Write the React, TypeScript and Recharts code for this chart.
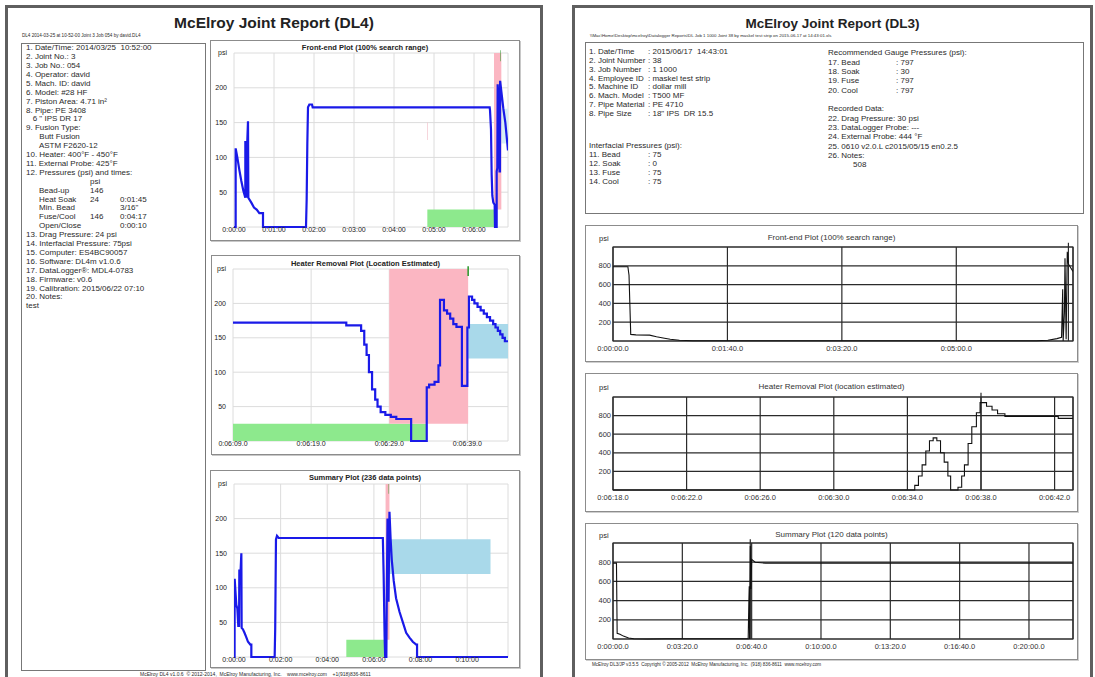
import React from 'react'
import { LineChart, Line, XAxis, YAxis, CartesianGrid, ReferenceArea, ReferenceLine } from 'recharts'

const FONT = '"Liberation Sans", Arial, Helvetica, sans-serif'

// ---------- DL4 report (left page), time in seconds, pressure in psi ----------
const dl4FrontT = [0, 2.5, 2.5, 5, 8, 11, 14, 17, 17, 18, 19, 20, 21, 21.5, 26, 30, 34, 38, 43.5, 43.5, 108, 109, 110, 111, 113, 117, 118, 383.5, 384, 385.5, 386.5, 387.5, 389, 391, 391.5, 394, 394, 395, 395.5, 396.5, 398, 398.3, 399, 399.2, 401, 404, 407, 411]
const dl4FrontPsi = [0, 0, 113, 100, 82, 66, 52, 42, 122, 122, 42, 125, 152, 42, 35, 28, 25, 20, 20, 0, 0, 40, 120, 172, 176, 176, 172, 172, 168, 140, 75, 45, 35, 32, 0, 0, 80, 85, 205, 190, 168, 80, 80, 210, 195, 170, 150, 110]

const dl4HeaterT = [369, 383.5, 385.4, 385.8, 386.1, 386.4, 386.8, 387.2, 387.5, 387.9, 388.5, 389.2, 389.9, 391.8, 393.8, 394.1, 394.8, 395.3, 395.5, 396, 396.4, 396.8, 397.2, 397.6, 398.3, 399, 399.2, 399.6, 399.9, 400.3, 400.7, 401.1, 401.5, 401.9, 402.3, 402.6, 402.9, 403.2, 403.5, 403.8, 404.2]
const dl4HeaterPsi = [172, 168, 160, 140, 125, 100, 75, 60, 50, 42, 38, 35, 32, 0, 78, 82, 86, 110, 205, 190, 185, 178, 170, 166, 80, 165, 210, 205, 200, 195, 190, 185, 180, 175, 170, 165, 160, 155, 150, 145, 145]

const dl4SummaryT = [0, 1.5, 1.7, 4.3, 6, 8.6, 11, 13, 13.7, 17, 18.9, 19.7, 23, 27, 32, 36, 42, 44.6, 44.6, 104.6, 106, 108, 110.6, 115, 383, 385, 387.5, 389, 392, 393, 395, 396.5, 397.6, 400, 403, 406, 411, 417, 426, 434.5, 443, 451.6, 460, 469, 471, 471, 705]
const dl4SummaryPsi = [0, 0, 113, 90, 75, 70, 45, 45, 125, 125, 150, 42, 40, 35, 28, 22, 18, 18, 0, 0, 40, 170, 175, 172, 172, 120, 30, 0, 0, 80, 200, 150, 80, 210, 170, 140, 110, 85, 65, 50, 35, 28, 22, 18, 18, 0, 0]

const dl4PsiTicks = [0, 50, 100, 150, 200, 250]
const dl4FrontTicks = [0, 60, 120, 180, 240, 300, 360]
const dl4HeaterTicks = [369, 379, 389, 399]
const dl4SummaryTicks = [0, 120, 240, 360, 480, 600]

type Zone = { x1: number; x2: number; y1: number; y2: number; kind: string }

const dl4FrontZones: Zone[] = [
  { x1: 290, x2: 390, y1: 0, y2: 25, kind: 'green' },
  { x1: 289.6, x2: 290.6, y1: 125, y2: 150, kind: 'faintPink' },
  { x1: 401, x2: 411, y1: 120, y2: 170, kind: 'faintBlue' },
  { x1: 390, x2: 401, y1: 25, y2: 250, kind: 'pink' },
  { x1: 399.6, x2: 400.4, y1: 238, y2: 254, kind: 'mark' },
]
const dl4HeaterZones: Zone[] = [
  { x1: 369, x2: 393.8, y1: 0, y2: 25, kind: 'green' },
  { x1: 389, x2: 399.1, y1: 25, y2: 250, kind: 'pink' },
  { x1: 399.1, x2: 404.2, y1: 120, y2: 170, kind: 'blue' },
  { x1: 399.0, x2: 399.2, y1: 240, y2: 254, kind: 'mark' },
]
const dl4SummaryZones: Zone[] = [
  { x1: 289, x2: 390, y1: 0, y2: 25, kind: 'green' },
  { x1: 390, x2: 400, y1: 25, y2: 250, kind: 'pink' },
  { x1: 400, x2: 660, y1: 120, y2: 170, kind: 'blue' },
  { x1: 397.8, x2: 399, y1: 236, y2: 250, kind: 'mark' },
]

// ---------- DL3 report (right page) ----------
const dl3FrontT = [0, 13, 14, 15.5, 20, 32, 38, 45, 50, 58, 70, 100, 370, 380, 388, 392, 393, 393.4, 394.5, 395, 396, 397, 398, 400, 402]
const dl3FrontPsi = [790, 790, 700, 70, 65, 62, 45, 30, 18, 8, 3, 2, 2, 8, 25, 40, 550, 0, 300, 880, 20, 950, 820, 780, 740]

const dl3HeaterT = [378, 394.4, 394.6, 394.8, 395, 395.2, 395.4, 395.6, 395.8, 396, 396.2, 396.35, 396.75, 396.95, 397.1, 397.3, 397.5, 397.75, 397.95, 398.3, 398.6, 398.9, 399.3, 402.2, 403]
const dl3HeaterPsi = [0, 50, 150, 270, 420, 530, 560, 530, 400, 300, 150, 0, 30, 150, 270, 500, 680, 830, 940, 900, 860, 820, 790, 770, 770]

const dl3SummaryT = [0, 10, 12, 20, 30, 45, 60, 100, 150, 390, 392, 393, 394, 396, 398, 400, 410, 440, 1327]
const dl3SummaryPsi = [790, 790, 60, 50, 30, 10, 3, 0, 3, 3, 400, 550, 0, 970, 520, 830, 800, 790, 790]

const dl3PsiTicks = [0, 200, 400, 600, 800, 1000]
const dl3FrontTicks = [0, 100, 200, 300]
const dl3HeaterTicks = [378, 382, 386, 390, 394, 398, 402]
const dl3SummaryTicks = [0, 200, 400, 600, 800, 1000, 1200]

const dl4Lines = [
  '1. Date/Time: 2014/03/25  10:52:00', '2. Joint No.: 3', '3. Job No.: 054', '4. Operator: david',
  '5. Mach. ID: david', '6. Model: #28 HF', '7. Piston Area: 4.71 in²', '8. Pipe: PE 3408',
  '   6 " IPS DR 17', '9. Fusion Type:', '      Butt Fusion', '      ASTM F2620-12',
  '10. Heater: 400°F - 450°F', '11. External Probe: 425°F', '12. Pressures (psi) and times:',
]
const dl4Table = [
  ['', 'psi', ''], ['Bead-up', '146', ''], ['Heat Soak', '24', '0:01:45'],
  ['Min. Bead', '', '3/16"'], ['Fuse/Cool', '146', '0:04:17'], ['Open/Close', '', '0:00:10'],
]
const dl4Tail = [
  '13. Drag Pressure: 24 psi', '14. Interfacial Pressure: 75psi', '15. Computer: ES4BC90057',
  '16. Software: DL4m v1.0.6', '17. DataLogger®: MDL4-0783', '18. Firmware: v0.6',
  '19. Calibration: 2015/06/22 07:10', '20. Notes:', 'test',
]

const dl3Left = [
  ['1. Date/Time', '2015/06/17  14:43:01'], ['2. Joint Number', '38'], ['3. Job Number', '1 1000'],
  ['4. Employee ID', 'maskel test strip'], ['5. Machine ID', 'dollar mill'], ['6. Mach. Model', 'T500 MF'],
  ['7. Pipe Material', 'PE 4710'], ['8. Pipe Size', '18" IPS  DR 15.5'],
]
const dl3Interfacial = [['11. Bead', '75'], ['12. Soak', '0'], ['13. Fuse', '75'], ['14. Cool', '75']]
const dl3Gauge = [['17. Bead', '797'], ['18. Soak', '30'], ['19. Fuse', '797'], ['20. Cool', '797']]
const dl3Recorded = [
  '22. Drag Pressure: 30 psi', '23. DataLogger Probe: ---', '24. External Probe: 444 °F',
  '25. 0610 v2.0.L c2015/05/15 en0.2.5', '26. Notes:',
]

const zoneFill: Record<string, string> = {
  green: '#8de98d', pink: '#fbb6c2', blue: '#a9d9ea', mark: '#2f9a2f', faintPink: '#f2c2ca', faintBlue: '#d6edf5',
}

const zip = (t: number[], p: number[]) => t.map((x, i) => ({ t: x, psi: p[i] }))

const hms = (s: number) => {
  const h = Math.floor(s / 3600)
  const m = Math.floor((s % 3600) / 60)
  const sec = Math.round(s % 60)
  return `${h}:${String(m).padStart(2, '0')}:${String(sec).padStart(2, '0')}`
}
const hmsd = (s: number) => hms(s) + '.0'

type Rect = { x: number; y: number; w: number; h: number }
type PlotRect = { x1: number; x2: number; y1: number; y2: number }

function Txt({ x, y, size = 8, children, bold = false, color = '#2a2a2a' }: any) {
  return (
    <div style={{ position: 'absolute', left: x, top: y - size * 0.6, fontSize: size, lineHeight: `${size * 1.2}px`, whiteSpace: 'pre', fontWeight: bold ? 'bold' : 'normal', color }}>
      {children}
    </div>
  )
}

function DL4Plot({ box, plot, title, titleY, data, domain, ticks, fmt, zones, stepped }: {
  box: Rect; plot: PlotRect; title: string; titleY: number; data: any[]; domain: number[]; ticks: number[]
  fmt: (v: number) => string; zones: Zone[]; stepped?: boolean
}) {
  const yW = 22
  const margin = { left: plot.x1 - box.x - yW, right: box.x + box.w - plot.x2, top: plot.y1 - box.y, bottom: 0 }
  const xH = box.y + box.h - plot.y2
  return (
    <>
      <div style={{ position: 'absolute', left: box.x, top: box.y, width: box.w, height: box.h, border: '1px solid #8c8c8c', boxSizing: 'border-box', boxShadow: '1px 1px 0 #c8c8c8' }} />
      <div style={{ position: 'absolute', left: box.x, top: titleY - 5, width: box.w, textAlign: 'center', fontSize: 7.5, fontWeight: 'bold', lineHeight: '10px', color: '#222' }}>{title}</div>
      <div style={{ position: 'absolute', left: box.x, top: box.y }}>
        <LineChart width={box.w} height={box.h} data={data} margin={margin}>
          <CartesianGrid stroke="#dcdcdc" />
          {zones.map((z, i) => (
            <ReferenceArea key={i} x1={z.x1} x2={z.x2} y1={z.y1} y2={z.y2} fill={zoneFill[z.kind]} fillOpacity={1} stroke="none" ifOverflow="visible" />
          ))}
          <XAxis dataKey="t" type="number" domain={domain} ticks={ticks} tickFormatter={fmt} height={xH} interval={0}
            tickLine={false} tickSize={0} axisLine={false} tickMargin={0} tick={{ fontSize: 7, fill: '#222' }} allowDataOverflow />
          <YAxis type="number" domain={[0, 250]} ticks={dl4PsiTicks} width={yW} interval={0}
            tickFormatter={(v: number) => (v === 250 ? 'psi' : v === 0 ? '' : String(v))}
            tickLine={false} tickSize={0} axisLine={false} tickMargin={7} tick={{ fontSize: 7, fill: '#222' }} />
          <Line dataKey="psi" type={stepped ? 'stepAfter' : 'linear'} stroke="#1a1ae8" strokeWidth={2.2} dot={false} isAnimationActive={false} />
        </LineChart>
      </div>
    </>
  )
}

function DL3Plot({ box, plot, title, titleY, data, domain, ticks, marker, markerTop, stepped }: {
  box: Rect; plot: PlotRect; title: string; titleY: number; data: any[]; domain: number[]; ticks: number[]
  marker: number; markerTop: number; stepped?: boolean
}) {
  const yW = 24
  const margin = { left: plot.x1 - box.x - yW, right: box.x + box.w - plot.x2, top: plot.y1 - box.y, bottom: 0 }
  const xH = box.y + box.h - plot.y2
  return (
    <>
      <div style={{ position: 'absolute', left: box.x, top: box.y, width: box.w, height: box.h, border: '1px solid #8c8c8c', boxSizing: 'border-box', boxShadow: '1px 1px 0 #cfcfcf' }} />
      <div style={{ position: 'absolute', left: box.x, top: titleY - 5, width: box.w, textAlign: 'center', fontSize: 8, lineHeight: '10px', color: '#333' }}>{title}</div>
      <Txt x={box.x + 14} y={titleY} size={7.5}>psi</Txt>
      <div style={{ position: 'absolute', left: box.x, top: box.y }}>
        <LineChart width={box.w} height={box.h} data={data} margin={margin}>
          <CartesianGrid stroke="#2b2b2b" strokeWidth={1.2} />
          <ReferenceArea x1={domain[0]} x2={domain[1]} y1={0} y2={1000} fill="none" stroke="#2b2b2b" strokeWidth={1.2} />
          <ReferenceLine segment={[{ x: marker, y: 0 }, { x: marker, y: markerTop }]} stroke="#2b2b2b" strokeWidth={1.2} ifOverflow="visible" />
          <XAxis dataKey="t" type="number" domain={domain} ticks={ticks} tickFormatter={hmsd} height={xH} interval={0}
            tickLine={false} tickSize={0} axisLine={false} tickMargin={5} tick={{ fontSize: 7.5, fill: '#333' }} allowDataOverflow />
          <YAxis type="number" domain={[0, 1000]} ticks={dl3PsiTicks} width={yW} interval={0}
            tickFormatter={(v: number) => (v === 0 || v === 1000 ? '' : String(v))}
            tickLine={false} tickSize={0} axisLine={false} tickMargin={2} tick={{ fontSize: 7.5, fill: '#333' }} />
          <Line dataKey="psi" type={stepped ? 'stepAfter' : 'linear'} stroke="#111" strokeWidth={1.1} dot={false} isAnimationActive={false} />
        </LineChart>
      </div>
    </>
  )
}

export default function App() {
  const lh = 8.9
  return (
    <div style={{ position: 'absolute', left: 0, top: 0, width: 1095, height: 677, overflow: 'hidden', background: '#fff', fontFamily: FONT, color: '#222' }}>
      {/* left page */}
      <div style={{ position: 'absolute', left: 5, top: 5, width: 538, height: 700, border: '3px solid #5f5f5f', boxSizing: 'border-box' }} />
      <div style={{ position: 'absolute', left: 5, top: 13, width: 538, textAlign: 'center', fontSize: 15.5, fontWeight: 'bold', lineHeight: '20px', color: '#222' }}>McElroy Joint Report (DL4)</div>
      <Txt x={22} y={36} size={4.6}>DL4 2014-03-25 at 10-52-00 Joint 3 Job 054 by david.DL4</Txt>
      <div style={{ position: 'absolute', left: 21, top: 43, width: 185, height: 628, border: '1px solid #777', boxSizing: 'border-box' }} />
      {dl4Lines.map((s, i) => <Txt key={'a' + i} x={26} y={48 + lh * i}>{s}</Txt>)}
      {dl4Table.map((r, i) => (
        <React.Fragment key={'t' + i}>
          <Txt x={39} y={48 + lh * (15 + i)}>{r[0]}</Txt>
          <Txt x={90} y={48 + lh * (15 + i)}>{r[1]}</Txt>
          <Txt x={120} y={48 + lh * (15 + i)}>{r[2]}</Txt>
        </React.Fragment>
      ))}
      {dl4Tail.map((s, i) => <Txt key={'b' + i} x={26} y={48 + lh * (21 + i)}>{s}</Txt>)}

      <DL4Plot box={{ x: 210, y: 40, w: 310, h: 201 }} plot={{ x1: 234, x2: 508, y1: 53, y2: 227 }}
        title="Front-end Plot (100% search range)" titleY={48} data={zip(dl4FrontT, dl4FrontPsi)}
        domain={[0, 411]} ticks={dl4FrontTicks} fmt={hms} zones={dl4FrontZones} />
      <DL4Plot box={{ x: 211, y: 255, w: 309, h: 200 }} plot={{ x1: 233, x2: 508, y1: 269, y2: 441 }}
        title="Heater Removal Plot (Location Estimated)" titleY={264} data={zip(dl4HeaterT, dl4HeaterPsi)}
        domain={[369, 404.2]} ticks={dl4HeaterTicks} fmt={(v: number) => hms(v) + '.0'} zones={dl4HeaterZones} stepped />
      <DL4Plot box={{ x: 210, y: 470, w: 310, h: 198 }} plot={{ x1: 234, x2: 508, y1: 484, y2: 657 }}
        title="Summary Plot (236 data points)" titleY={478} data={zip(dl4SummaryT, dl4SummaryPsi)}
        domain={[0, 705]} ticks={dl4SummaryTicks} fmt={hms} zones={dl4SummaryZones} />
      <Txt x={140} y={674} size={5}>McElroy DL4 v1.0.6  © 2012-2014,  McElroy Manufacturing, Inc.    www.mcelroy.com    +1(918)836-8611</Txt>

      {/* right page */}
      <div style={{ position: 'absolute', left: 572, top: 5, width: 521, height: 700, border: '3px solid #5f5f5f', boxSizing: 'border-box' }} />
      <div style={{ position: 'absolute', left: 572, top: 14, width: 521, textAlign: 'center', fontSize: 13.5, fontWeight: 'bold', lineHeight: '20px', color: '#222' }}>McElroy Joint Report (DL3)</div>
      <Txt x={590} y={36} size={4.4}>\\Mac\Home\Desktop\mcelroy\Datalogger Reports\DL Job 1 1000 Joint 38 by maskel test strip on 2015-06-17 at 14:43:01.xls</Txt>
      <div style={{ position: 'absolute', left: 585, top: 42, width: 499, height: 172, border: '1px solid #777', boxSizing: 'border-box' }} />
      {dl3Left.map((r, i) => (
        <React.Fragment key={'l' + i}>
          <Txt x={589} y={52 + 8.8 * i}>{r[0]}</Txt>
          <Txt x={648} y={52 + 8.8 * i}>{': ' + r[1]}</Txt>
        </React.Fragment>
      ))}
      <Txt x={589} y={146}>Interfacial Pressures (psi):</Txt>
      {dl3Interfacial.map((r, i) => (
        <React.Fragment key={'i' + i}>
          <Txt x={589} y={155 + 8.8 * i}>{r[0]}</Txt>
          <Txt x={648} y={155 + 8.8 * i}>{': ' + r[1]}</Txt>
        </React.Fragment>
      ))}
      <Txt x={828} y={53}>Recommended Gauge Pressures (psi):</Txt>
      {dl3Gauge.map((r, i) => (
        <React.Fragment key={'g' + i}>
          <Txt x={828} y={62.4 + 9.4 * i}>{r[0]}</Txt>
          <Txt x={896} y={62.4 + 9.4 * i}>{': ' + r[1]}</Txt>
        </React.Fragment>
      ))}
      <Txt x={828} y={109}>Recorded Data:</Txt>
      {dl3Recorded.map((s, i) => <Txt key={'r' + i} x={828} y={118.5 + 9.3 * i}>{s}</Txt>)}
      <Txt x={853} y={165}>508</Txt>

      <DL3Plot box={{ x: 585, y: 225, w: 493, h: 137 }} plot={{ x1: 613, x2: 1073, y1: 247, y2: 341 }}
        title="Front-end Plot (100% search range)" titleY={238} data={zip(dl3FrontT, dl3FrontPsi)}
        domain={[0, 402]} ticks={dl3FrontTicks} marker={398} markerTop={1045} />
      <DL3Plot box={{ x: 585, y: 373, w: 493, h: 139 }} plot={{ x1: 613, x2: 1073, y1: 397, y2: 490 }}
        title="Heater Removal Plot (location estimated)" titleY={387} data={zip(dl3HeaterT, dl3HeaterPsi)}
        domain={[378, 403]} ticks={dl3HeaterTicks} marker={398} markerTop={1045} stepped />
      <DL3Plot box={{ x: 585, y: 523, w: 493, h: 137 }} plot={{ x1: 613, x2: 1073, y1: 543, y2: 639 }}
        title="Summary Plot (120 data points)" titleY={535} data={zip(dl3SummaryT, dl3SummaryPsi)}
        domain={[0, 1327]} ticks={dl3SummaryTicks} marker={396} markerTop={1040} />
      <Txt x={592} y={665} size={4.6}>McElroy DL3/JP v3.5.5  Copyright © 2005-2012  McElroy Manufacturing, Inc.  (918) 836-8611  www.mcelroy.com</Txt>
    </div>
  )
}
